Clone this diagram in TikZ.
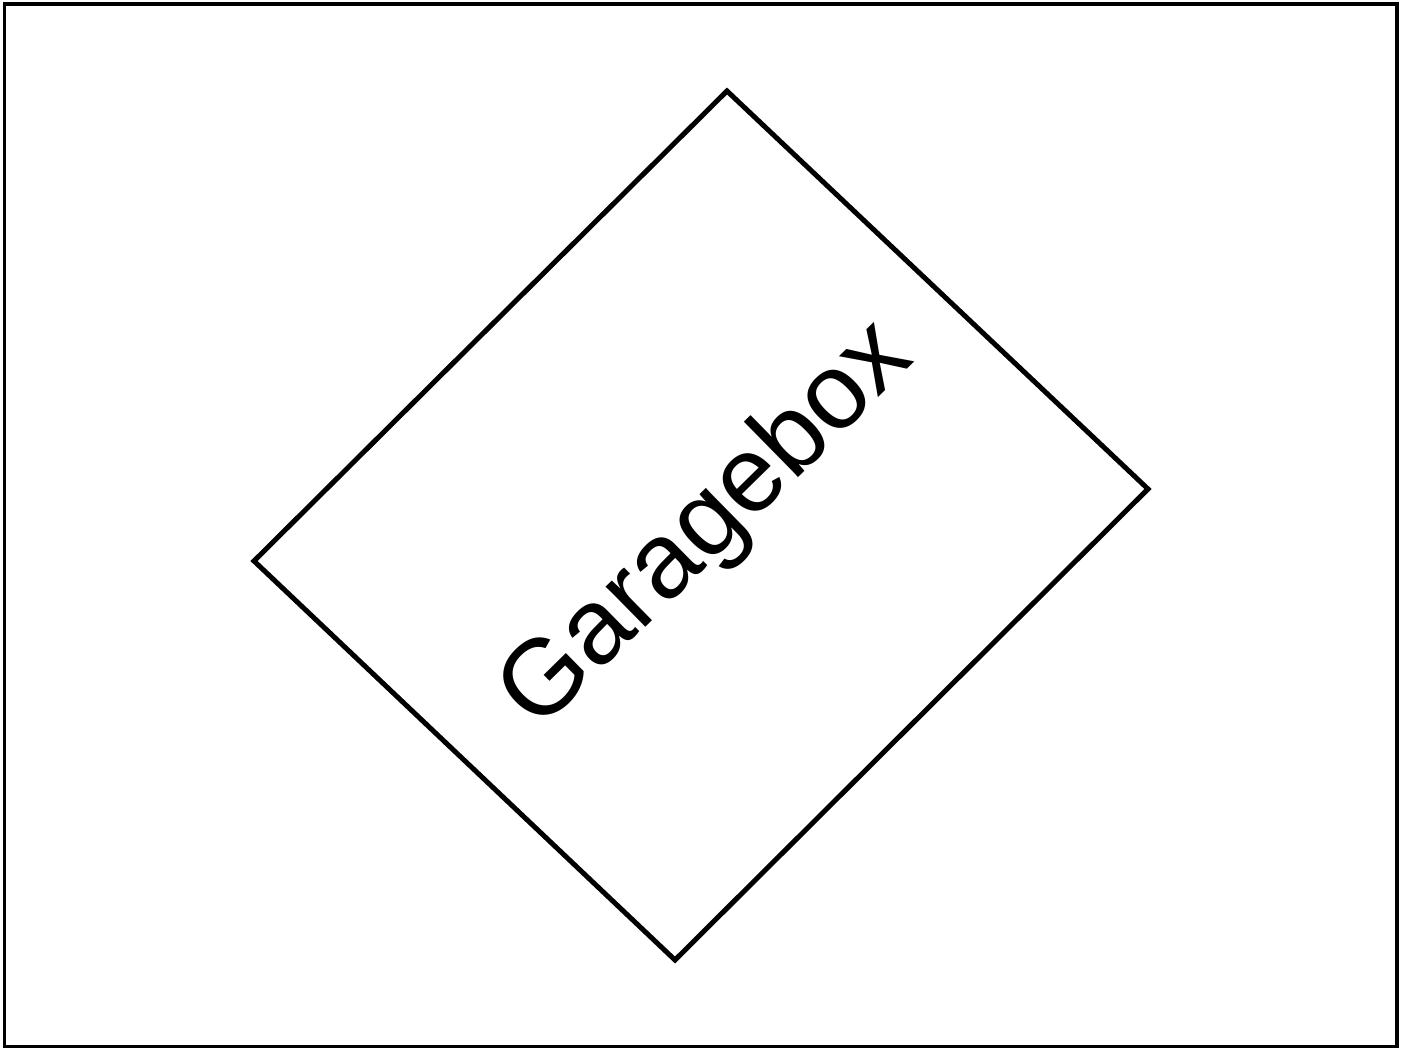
\documentclass[tikz,border=0pt]{standalone}
\usepackage{fontspec}
\setmainfont{Liberation Sans}
\usetikzlibrary{positioning}
\tikzset{
  gbframe/.style={draw, line width=3.2pt},
  gbbox/.style={draw, line width=5pt, line join=miter},
  gblabel/.style={font=\fontsize{107}{120}\selectfont, inner sep=0pt, rotate=44.5},
}
\begin{document}
\begin{tikzpicture}[x=1pt, y=-1pt]
  \useasboundingbox (0,0) rectangle (1408,1048);
  \draw[gbframe] (4.5,4) rectangle (1397,1046.5);

  \coordinate (top) at (727,91);
  \coordinate (right) at (1148,489);
  \coordinate (bottom) at (675,960);
  \coordinate (left) at (254,561);
  \draw[gbbox] (top) -- (right) -- (bottom) -- (left) -- cycle;

  \node[gblabel] (garage) at (708,527) {Garagebox};
\end{tikzpicture}
\end{document}
